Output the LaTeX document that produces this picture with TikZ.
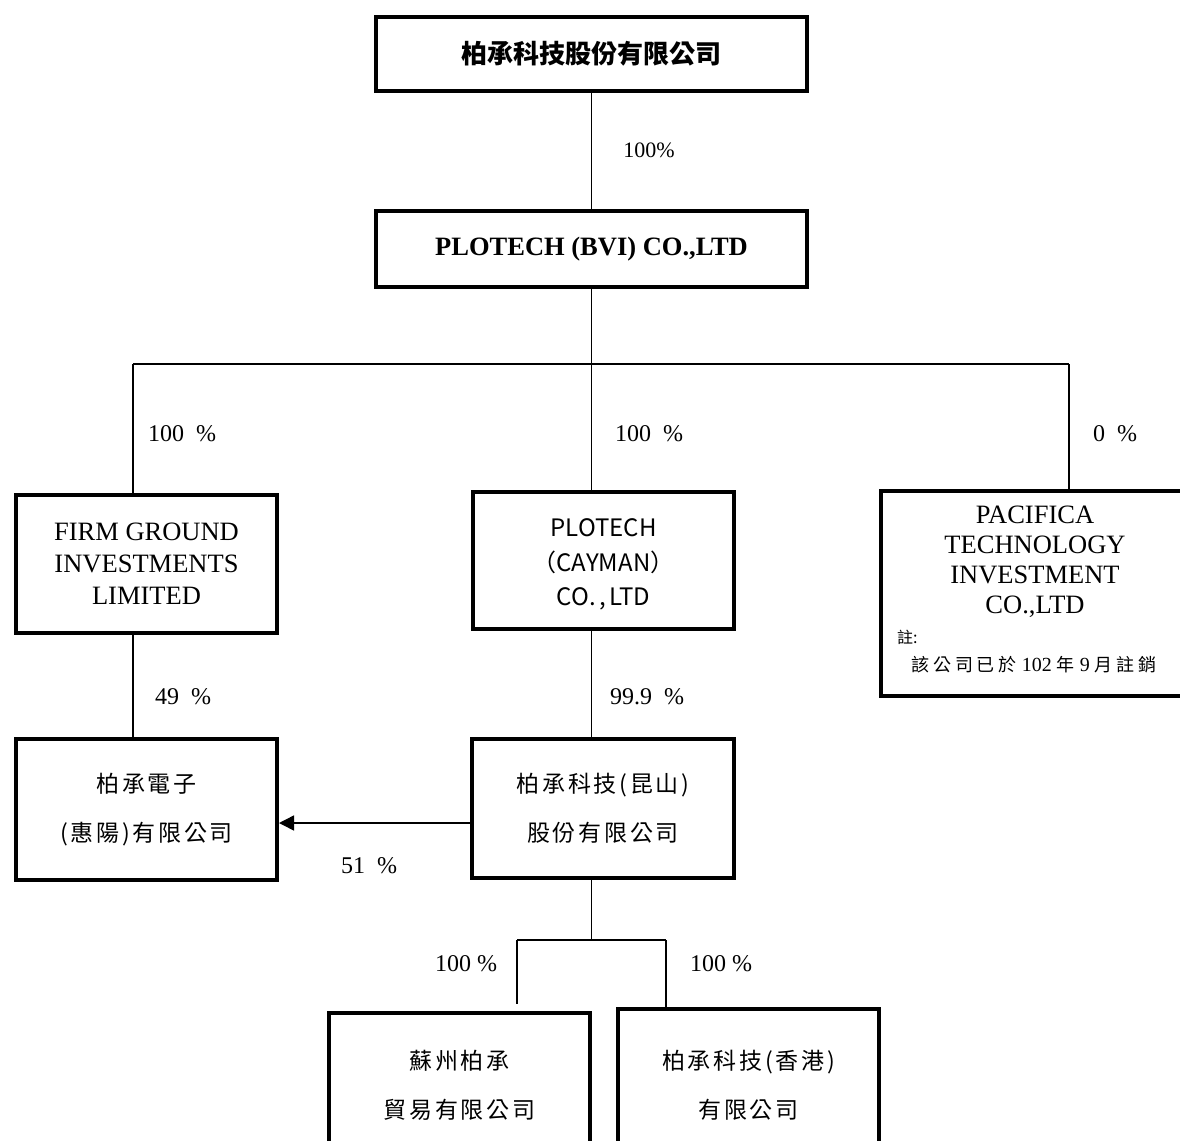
\documentclass[tikz,border=0pt]{standalone}
\usepackage{fontspec}
\setmainfont{Liberation Serif}
\newfontfamily\cjk{Noto Sans CJK TC}
\newfontfamily\cjks[LetterSpace=12]{Noto Sans CJK TC}
\newfontfamily\cjkn[LetterSpace=22]{Noto Sans CJK TC}
\usetikzlibrary{arrows.meta}
\begin{document}
\begin{tikzpicture}[x=1pt,y=-1pt,
  box/.style={draw, line width=4pt, rectangle, inner sep=0pt, anchor=north west, align=center},
  conn/.style={line width=1.5pt},
  pct/.style={font=\fontsize{24}{28}\selectfont, inner sep=0pt},
  latin/.style={font=\fontsize{26.5}{31.5}\selectfont},
  cjkbox/.style={font=\cjks\fontsize{23}{49}\selectfont}
]
\useasboundingbox (0,0) rectangle (1180,1140);
\clip (0,0) rectangle (1180,1140);

% boxes
\node[box, minimum width=431pt, minimum height=74pt, font=\cjk\bfseries\fontsize{26}{30}\selectfont] (top) at (374,15) {柏承科技股份有限公司};
\node[box, minimum width=431pt, minimum height=76pt, font=\bfseries\fontsize{26.5}{30}\selectfont] (bvi) at (374,209) {PLOTECH (BVI) CO.,LTD};
\node[box, latin, minimum width=261pt, minimum height=138pt, font=\fontsize{26.5}{32}\selectfont] (fg) at (14,493) {FIRM GROUND\\INVESTMENTS\\LIMITED};
\node[box, minimum width=261pt, minimum height=137pt, font=\cjk\fontsize{24}{34.5}\selectfont] (cay) at (471,490) {\rule{0pt}{26pt}PLOTECH\\（CAYMAN）\\CO.\hspace{4pt},\hspace{3pt}LTD};
\node[box, minimum width=314pt, minimum height=205pt] (pac) at (879,489) {};
\node[box, cjkbox, minimum width=261pt, minimum height=141pt] (hui) at (14,737) {柏承電子\\(惠陽)有限公司};
\node[box, cjkbox, minimum width=262pt, minimum height=139pt] (kun) at (470,737) {柏承科技(昆山)\\股份有限公司};
\node[box, cjkbox, minimum width=261pt, minimum height=144pt] (suz) at (327,1011) {蘇州柏承\\貿易有限公司};
\node[box, cjkbox, minimum width=261pt, minimum height=152pt] (hk) at (616,1007) {柏承科技(香港)\\有限公司};

% Pacifica texts
\node[align=center, inner sep=0pt, font=\fontsize{26.5}{30}\selectfont] (pacname) at (1035,562) {PACIFICA\\TECHNOLOGY\\INVESTMENT\\CO.,LTD};
\node[anchor=west, inner sep=0pt, font=\cjk\fontsize{16}{18}\selectfont] (pacnote1) at (897,637) {註:};
\node[inner sep=0pt, font=\fontsize{20}{24}\selectfont] (pacnote2) at (1034,665) {{\cjkn\fontsize{18}{20}\selectfont 該公司已於} 102 {\cjkn\fontsize{18}{20}\selectfont 年} 9 {\cjkn\fontsize{18}{20}\selectfont 月註銷}};

% connectors
\coordinate (busL) at (133,364);
\coordinate (busR) at (1069,364);
\coordinate (arr) at (0,823);
\coordinate (bus2L) at (517,940);
\coordinate (bus2R) at (666,940);
\draw[conn] (top.south) -- (bvi.north);
\draw[conn] (bvi.south) -- (bvi.south |- busL);
\draw[conn] (busL) -- (busR);
\draw[conn] (busL) -- (busL |- fg.north);
\draw[conn] (bvi.south |- busL) -- (bvi.south |- cay.north);
\draw[conn] (busR) -- (busR |- pac.north);
\draw[conn] (busL |- fg.south) -- (busL |- hui.north);
\draw[conn] (bvi.south |- cay.south) -- (bvi.south |- kun.north);
\draw[conn, -{Triangle[length=15pt,width=15pt]}] (kun.west |- arr) -- (hui.east |- arr);
\draw[conn] (bvi.south |- kun.south) -- (bvi.south |- bus2L);
\draw[conn] (bus2L) -- (bus2R);
\draw[conn] (bus2L) -- ++(0,64);
\draw[conn] (bus2R) -- (bus2R |- hk.north);

% labels
\node[inner sep=0pt, font=\fontsize{22}{26}\selectfont] (l1) at (649,150) {100\%};
\node[pct] (l2) at (182,434) {100\ \ \%};
\node[pct] (l3) at (649,434) {100\ \ \%};
\node[pct] (l4) at (1115,434) {0\ \ \%};
\node[pct] (l5) at (183,697) {49\ \ \%};
\node[pct] (l6) at (647,697) {99.9\ \ \%};
\node[pct] (l7) at (369,866) {51\ \ \%};
\node[pct] (l8) at (466,964) {100 \%};
\node[pct] (l9) at (721,964) {100 \%};
\end{tikzpicture}
\end{document}
